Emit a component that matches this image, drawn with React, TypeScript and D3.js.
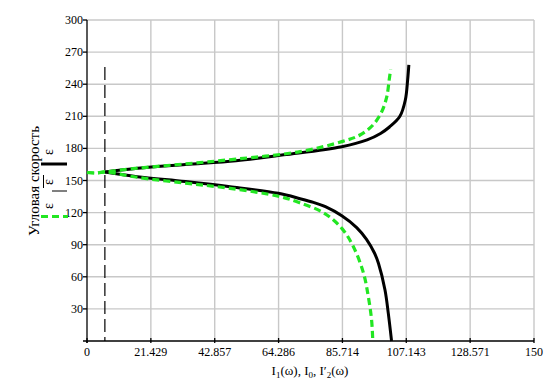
import { useEffect, useRef } from "react";
import * as d3 from "d3";

// black curve, upper branch: current vs angular speed
const upperBlackI = [6, 17, 33, 50, 66, 85.5, 94, 98.5, 101.5, 105, 106.8, 107.6, 108];
const upperBlackW = [158, 161.5, 165, 168.5, 174, 181.6, 188, 194, 200, 210, 225, 244, 258];

// black curve, lower branch
const lowerBlackI = [6, 16.8, 33, 48, 64.2, 71.5, 76, 80, 85.5, 90.5, 93.8, 96.5, 97.8, 100, 101.1, 102.2];
const lowerBlackW = [158, 153.6, 149, 144.2, 138, 133, 129.5, 125.5, 117, 106, 95, 82, 72.6, 47.7, 26, 0];

// green dashed curve, upper branch
const upperGreenI = [0, 3, 6, 17, 33, 50, 71.5, 85.5, 91.6, 96, 98.9, 100.6, 101.4, 101.9];
const upperGreenW = [157.5, 157, 158, 161.5, 165.5, 170, 177, 186.3, 192.5, 202, 214.3, 228.3, 244, 254];

// green dashed curve, lower branch
const lowerGreenI = [0, 3, 6, 16.8, 33, 48, 64.8, 71.5, 79.3, 85.5, 89.4, 92.8, 94.4, 95.5, 95.9];
const lowerGreenW = [157.5, 157, 158, 153, 147.5, 142.7, 134.9, 129, 120, 105.3, 88.1, 63.3, 41.4, 19.6, 0];

// I0 marker
const i0Value = 6;
const i0Top = 256;

const xTicks = [0, 21.429, 42.857, 64.286, 85.714, 107.143, 128.571, 150];
const yTicks = [30, 60, 90, 120, 150, 180, 210, 240, 270, 300];

const W = 549;
const H = 385;
const FONT = "Liberation Serif, DejaVu Serif, serif";
const GREEN = "#22e622";

export default function App() {
  const svgRef = useRef<SVGSVGElement>(null);

  useEffect(() => {
    if (!svgRef.current) return;
    const svg = d3.select(svgRef.current);
    svg.selectAll("*").remove();
    svg.attr("font-family", FONT);

    const x = d3.scaleLinear().domain([0, 150]).range([87, 534]);
    const y = d3.scaleLinear().domain([0, 300]).range([341, 20]);

    svg.append("rect").attr("width", W).attr("height", H).attr("fill", "#fff");

    // grid
    const grid = svg.append("g").attr("stroke", "#c8c8c8").attr("stroke-width", 1.4);
    xTicks.slice(1).forEach((t) => {
      grid.append("line").attr("x1", x(t)).attr("x2", x(t)).attr("y1", y(0)).attr("y2", y(300));
    });
    yTicks.forEach((t) => {
      grid.append("line").attr("x1", x(0)).attr("x2", x(150)).attr("y1", y(t)).attr("y2", y(t));
    });

    // axes
    const axes = svg.append("g").attr("stroke", "#000").attr("stroke-width", 1.3);
    axes.append("line").attr("x1", x(0)).attr("x2", x(0)).attr("y1", y(0) + 2).attr("y2", y(300));
    axes.append("line").attr("x1", x(0) - 4).attr("x2", x(150)).attr("y1", y(0)).attr("y2", y(0));
    yTicks.forEach((t) => {
      axes.append("line").attr("x1", x(0) - 4).attr("x2", x(0)).attr("y1", y(t)).attr("y2", y(t));
    });
    xTicks.forEach((t) => {
      axes.append("line").attr("x1", x(t)).attr("x2", x(t)).attr("y1", y(0) - 3).attr("y2", y(0) + 2);
    });

    svg.append("g")
      .selectAll("text")
      .data(yTicks)
      .enter()
      .append("text")
      .attr("x", x(0) - 4)
      .attr("y", (d) => y(d) + 4)
      .attr("text-anchor", "end")
      .attr("font-size", 12)
      .text((d) => d);

    svg.append("g")
      .selectAll("text")
      .data(xTicks)
      .enter()
      .append("text")
      .attr("x", (d) => x(d))
      .attr("y", 356)
      .attr("text-anchor", "middle")
      .attr("font-size", 12)
      .text((d) => String(d));

    // I0 dashed marker
    svg.append("line")
      .attr("x1", x(i0Value)).attr("x2", x(i0Value))
      .attr("y1", y(i0Top)).attr("y2", y(0))
      .attr("stroke", "#000").attr("stroke-width", 1.2)
      .attr("stroke-dasharray", "13,5");

    const line = d3
      .line<[number, number]>()
      .x((d) => x(d[0]))
      .y((d) => y(d[1]))
      .curve(d3.curveCatmullRom.alpha(0.5));

    const zip = (a: number[], b: number[]) => a.map((v, i) => [v, b[i]] as [number, number]);

    [zip(upperBlackI, upperBlackW), zip(lowerBlackI, lowerBlackW)].forEach((pts) => {
      svg.append("path").attr("d", line(pts)).attr("fill", "none")
        .attr("stroke", "#000").attr("stroke-width", 3);
    });
    [zip(upperGreenI, upperGreenW), zip(lowerGreenI, lowerGreenW)].forEach((pts) => {
      svg.append("path").attr("d", line(pts)).attr("fill", "none")
        .attr("stroke", GREEN).attr("stroke-width", 3.2)
        .attr("stroke-dasharray", "7,4");
    });

    // y title and legend
    svg.append("text")
      .attr("transform", "translate(39,181) rotate(-90)")
      .attr("text-anchor", "middle")
      .attr("font-size", 15)
      .text("Угловая скорость");

    [152, 182, 206].forEach((cy) => {
      svg.append("text")
        .attr("transform", `translate(53,${cy}) rotate(-90)`)
        .attr("text-anchor", "middle")
        .attr("font-size", 14)
        .text("ε");
    });
    svg.append("line").attr("x1", 41).attr("x2", 67).attr("y1", 164).attr("y2", 164)
      .attr("stroke", "#000").attr("stroke-width", 3);
    svg.append("line").attr("x1", 43.5).attr("x2", 43.5).attr("y1", 175).attr("y2", 188)
      .attr("stroke", "#000").attr("stroke-width", 1);
    svg.append("line").attr("x1", 52).attr("x2", 67).attr("y1", 191).attr("y2", 191)
      .attr("stroke", "#000").attr("stroke-width", 1);
    svg.append("line").attr("x1", 41).attr("x2", 68).attr("y1", 216.5).attr("y2", 216.5)
      .attr("stroke", GREEN).attr("stroke-width", 3.2).attr("stroke-dasharray", "7,4");

    // x title: I1(ω), I0, I'2(ω)
    const xt = svg.append("text")
      .attr("x", 310).attr("y", 375)
      .attr("text-anchor", "middle")
      .attr("font-size", 13);
    const parts: [string, boolean][] = [
      ["I", false], ["1", true], ["(ω), I", false], ["0", true], [", I′", false], ["2", true], ["(ω)", false],
    ];
    let prevSub = false;
    parts.forEach(([s, sub]) => {
      const dy = sub ? 3 : prevSub ? -3 : 0;
      xt.append("tspan")
        .attr("dy", dy)
        .attr("font-size", sub ? 9 : 13)
        .text(s);
      prevSub = sub;
    });
  }, []);

  return (
    <svg
      ref={svgRef}
      width={W}
      height={H}
      style={{ position: "absolute", left: 0, top: 0, background: "#fff" }}
    />
  );
}
